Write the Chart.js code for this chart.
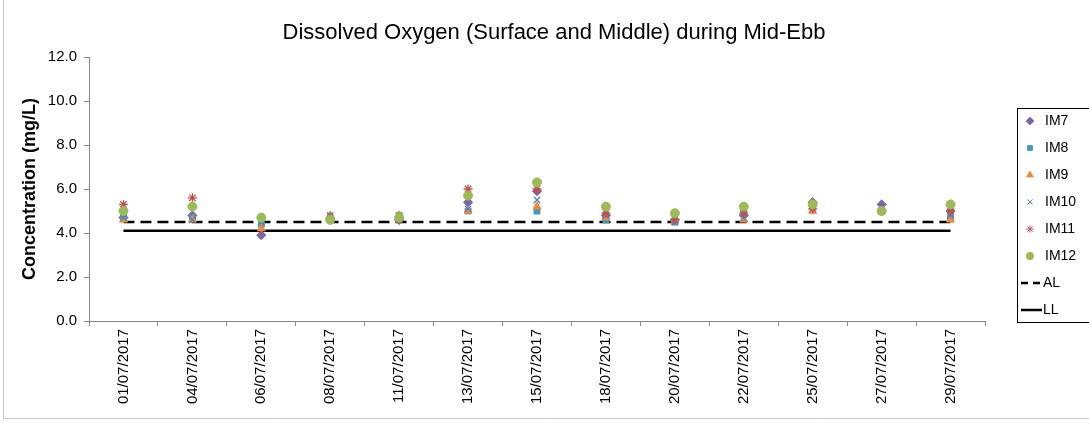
<!DOCTYPE html>
<html>
<head>
<meta charset="utf-8">
<script src="https://cdn.jsdelivr.net/npm/chart.js@4/dist/chart.umd.min.js"></script>
<style>
  html, body { margin: 0; padding: 0; background: #fff; }
  #wrap { width: 1089px; height: 423px; position: relative; }
</style>
</head>
<body>
<div id="wrap"><canvas id="c" width="1089" height="423"></canvas></div>
<script>
// sampling dates
const categories = ['01/07/2017', '04/07/2017', '06/07/2017', '08/07/2017', '11/07/2017', '13/07/2017',
    '15/07/2017', '18/07/2017', '20/07/2017', '22/07/2017', '25/07/2017', '27/07/2017', '29/07/2017'];

// DO readings (mg/L)
const im7  = [4.7, 4.8, 3.9, 4.6, 4.6, 5.4, 5.9, 4.8, 4.6, 4.8, 5.4, 5.3, 5.0];
const im8  = [4.7, 4.7, 4.4, 4.6, 4.8, 5.0, 5.0, 4.6, 4.5, 5.0, 5.2, 5.0, 4.7];
const im9  = [4.6, 4.6, 4.2, 4.8, 4.8, 5.0, 5.2, 4.7, 4.6, 4.6, 5.0, 5.0, 4.6];
const im10 = [4.7, 4.6, 4.5, 4.8, 4.7, 5.1, 5.5, 4.8, 4.5, 4.7, 5.2, 5.0, 4.8];
const im11 = [5.3, 5.6, 4.7, 4.7, 4.6, 6.0, 6.0, 4.9, 4.6, 4.9, 5.1, 5.0, 5.0];
const im12 = [5.0, 5.2, 4.7, 4.6, 4.7, 5.7, 6.3, 5.2, 4.9, 5.2, 5.3, 5.0, 5.3];

// action level / limit level
const alLine = [4.5, 4.5, 4.5, 4.5, 4.5, 4.5, 4.5, 4.5, 4.5, 4.5, 4.5, 4.5, 4.5];
const llLine = [4.1, 4.1, 4.1, 4.1, 4.1, 4.1, 4.1, 4.1, 4.1, 4.1, 4.1, 4.1, 4.1];

const yTicks = [0, 2, 4, 6, 8, 10, 12];

const TITLE = 'Dissolved Oxygen (Surface and Middle) during Mid-Ebb';
const FONT = "'Liberation Sans', Arial, sans-serif";

function markerSet(label, data, style, color, order, radius) {
    return {
        label, data,
        showLine: false,
        pointStyle: style,
        pointRadius: radius || 4,
        pointBackgroundColor: color,
        pointBorderColor: color,
        pointBorderWidth: (style === 'crossRot' || style === 'star') ? 1.3 : 1,
        backgroundColor: color,
        borderColor: color,
        order
    };
}

const datasets = [
    markerSet('IM7', im7, 'rectRot', '#7F63A6', 6, 4.6),
    markerSet('IM8', im8, 'rect', '#3F9CB9', 5, 4.2),
    markerSet('IM9', im9, 'triangle', '#EE8A3E', 4, 4.6),
    markerSet('IM10', im10, 'crossRot', '#4F81BD', 3, 4.5),
    markerSet('IM11', im11, 'star', '#C0504D', 2, 4.5),
    markerSet('IM12', im12, 'circle', '#9BBB59', 1, 4.5),
    { label: 'AL', data: alLine, borderColor: '#000', borderWidth: 2.5, borderDash: [11, 6],
      pointRadius: 0, fill: false, order: 8 },
    { label: 'LL', data: llLine, borderColor: '#000', borderWidth: 2.5,
      pointRadius: 0, fill: false, order: 9 }
];

// title centred on the whole chart object + legend box drawn by hand, Excel style
const boxLegend = {
    id: 'boxLegend',
    afterDraw(chart) {
        const ctx = chart.ctx;
        ctx.save();
        ctx.fillStyle = '#000';
        ctx.font = '22px ' + FONT;
        ctx.textAlign = 'center';
        ctx.textBaseline = 'middle';
        ctx.fillText(TITLE, 554, 33);

        const x0 = 1017, y0 = 108, step = 27;
        ctx.textAlign = 'left';
        ctx.strokeStyle = '#000';
        ctx.lineWidth = 1;
        ctx.strokeRect(x0 + 0.5, y0 + 0.5, 90, 214);
        ctx.font = '14px ' + FONT;
        chart.data.datasets.forEach((ds, i) => {
            const y = y0 + 13 + i * step;
            if (ds.showLine === false) {
                ctx.save();
                ctx.fillStyle = ds.pointBackgroundColor;
                ctx.strokeStyle = ds.pointBorderColor;
                Chart.helpers.drawPoint(ctx, {
                    pointStyle: ds.pointStyle, radius: ds.pointRadius - 0.8,
                    borderWidth: ds.pointBorderWidth, rotation: 0
                }, x0 + 13, y);
                ctx.restore();
                ctx.fillText(ds.label, x0 + 28, y);
            } else {
                ctx.save();
                ctx.strokeStyle = ds.borderColor;
                ctx.lineWidth = 2.5;
                ctx.setLineDash(ds.borderDash ? [7, 5] : []);
                ctx.beginPath();
                ctx.moveTo(x0 + 4, y);
                ctx.lineTo(x0 + 25, y);
                ctx.stroke();
                ctx.restore();
                ctx.fillText(ds.label, x0 + 26, y);
            }
        });
        // outer frame of the chart object
        ctx.strokeStyle = '#c8c8c8';
        ctx.beginPath();
        ctx.moveTo(3.5, 0);
        ctx.lineTo(3.5, 418.5);
        ctx.lineTo(1089, 418.5);
        ctx.stroke();
        ctx.restore();
    }
};

new Chart(document.getElementById('c').getContext('2d'), {
    type: 'line',
    data: { labels: categories, datasets },
    options: {
        responsive: false,
        animation: false,
        layout: { padding: { left: 8, right: 104, top: 57, bottom: 0 } },
        plugins: {
            legend: { display: false },
            tooltip: { enabled: false },
            title: { display: false }
        },
        scales: {
            x: {
                type: 'category',
                offset: true,
                afterFit: s => { s.height = 102; },
                grid: { offset: true, drawOnChartArea: false, drawTicks: true, tickLength: 5, color: '#868686' },
                border: { color: '#868686', width: 1 },
                ticks: {
                    color: '#000', maxRotation: 90, minRotation: 90, autoSkip: false, padding: 3,
                    font: { family: FONT, size: 15 }
                }
            },
            y: {
                min: 0, max: 12,
                afterFit: s => { s.width = 81; },
                afterBuildTicks: s => { s.ticks = yTicks.map(v => ({ value: v })); },
                grid: { drawOnChartArea: false, drawTicks: true, tickLength: 5, color: '#868686' },
                border: { color: '#868686', width: 1 },
                ticks: {
                    color: '#000', padding: 7,
                    font: { family: FONT, size: 15 },
                    callback: v => v.toFixed(1)
                },
                title: {
                    display: true, text: 'Concentration (mg/L)', color: '#000',
                    font: { family: FONT, size: 18, weight: 'bold' },
                    padding: { top: 11, bottom: 0 }
                }
            }
        }
    },
    plugins: [boxLegend]
});
</script>
</body>
</html>
